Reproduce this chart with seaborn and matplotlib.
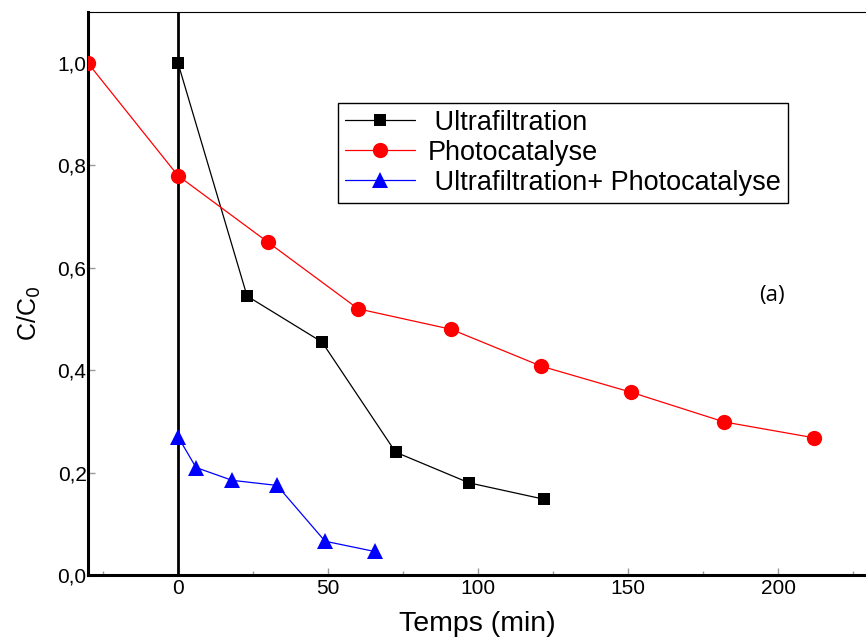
import matplotlib
matplotlib.use("Agg")
import matplotlib.pyplot as plt
import seaborn as sns
import pandas as pd
from matplotlib.ticker import FuncFormatter, MultipleLocator

sns.set_style("white")
plt.rcParams['font.family'] = ['Liberation Sans', 'DejaVu Sans']

uf_t = [0, 23, 48, 72.5, 97, 122]
uf_c = [1.0, 0.545, 0.455, 0.24, 0.18, 0.148]
ph_t = [-30, 0, 30, 60, 91, 121, 151, 182, 212]
ph_c = [1.0, 0.78, 0.65, 0.52, 0.48, 0.408, 0.357, 0.299, 0.268]
ufph_t = [0, 6, 18, 33, 49, 65.5]
ufph_c = [0.27, 0.21, 0.185, 0.175, 0.066, 0.046]
labels = ["Ultrafiltration", "Photocatalyse", "Ultrafiltration+ Photocatalyse"]
legend_labels = [" Ultrafiltration", "Photocatalyse", " Ultrafiltration+ Photocatalyse"]

df = pd.concat([
    pd.DataFrame({"t": uf_t, "c": uf_c, "s": labels[0]}),
    pd.DataFrame({"t": ph_t, "c": ph_c, "s": labels[1]}),
    pd.DataFrame({"t": ufph_t, "c": ufph_c, "s": labels[2]}),
])

fig = plt.figure(figsize=(8.66, 6.37), dpi=100)
ax = fig.add_axes([0.1016, 0.0973, 0.9, 0.884])

ax.axvline(0, color='black', lw=2, zorder=1)

colors = ["black", "red", "blue"]
markers = ["s", "o", "^"]
sizes = [9, 11, 12]
for lab, col, mk, ms, ll in zip(labels, colors, markers, sizes, legend_labels):
    d = df[df.s == lab]
    sns.lineplot(data=d, x="t", y="c", ax=ax, color=col, marker=mk, markersize=ms,
                 markeredgewidth=0, lw=0.9, label=ll, estimator=None, sort=False, zorder=3)

ax.set_xlim(-30, 229.7)
ax.set_ylim(0, 1.1)
ax.set_xticks([0, 50, 100, 150, 200])
ax.xaxis.set_minor_locator(MultipleLocator(25))
ax.set_yticks([0, 0.2, 0.4, 0.6, 0.8, 1.0])
ax.yaxis.set_major_formatter(FuncFormatter(lambda v, p: f"{v:.1f}".replace('.', ',')))
ax.tick_params(axis='both', which='major', direction='in', length=5, width=1, color='#999999',
               labelsize=15, labelcolor='black')
ax.tick_params(axis='y', which='major', pad=1)
ax.tick_params(axis='x', which='major', pad=3)
ax.tick_params(axis='x', which='minor', direction='in', length=3, width=1, color='#999999')
ax.xaxis.set_ticks_position('bottom')
ax.yaxis.set_ticks_position('left')

ax.spines['left'].set_linewidth(2.2)
ax.spines['bottom'].set_linewidth(2.2)
ax.spines['top'].set_linewidth(0.8)
ax.spines['right'].set_visible(False)
for s in ax.spines.values():
    s.set_color('black')

ax.set_xlabel("Temps (min)", fontsize=20.5, labelpad=9, color='black')
ax.set_ylabel("C/C$_0$", fontsize=18, color='black')
ax.yaxis.set_label_coords(-0.058, 0.465)

leg = ax.legend(loc='upper left', bbox_to_anchor=(0.3208, 0.8384), fontsize=19.5,
                frameon=True, fancybox=False, edgecolor='black', framealpha=1,
                borderpad=0.25, labelspacing=0.15, handlelength=2.6, handletextpad=0.45,
                borderaxespad=0)
leg.get_frame().set_linewidth(1.0)
for t in leg.get_texts():
    t.set_color('black')

ax.text(0.877, 0.496, "(a)", transform=ax.transAxes, fontsize=16, family='Open Sans',
        ha='center', va='center', color='black')

fig.savefig("out.png", dpi=100)
